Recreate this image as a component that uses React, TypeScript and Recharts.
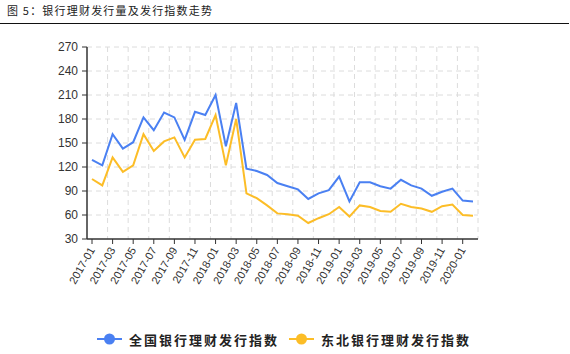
import React from 'react';
import { LineChart, Line, XAxis, YAxis, CartesianGrid, Legend } from 'recharts';

const months = [
  '2017-01', '2017-02', '2017-03', '2017-04', '2017-05', '2017-06', '2017-07', '2017-08', '2017-09', '2017-10',
  '2017-11', '2017-12', '2018-01', '2018-02', '2018-03', '2018-04', '2018-05', '2018-06', '2018-07', '2018-08',
  '2018-09', '2018-10', '2018-11', '2018-12', '2019-01', '2019-02', '2019-03', '2019-04', '2019-05', '2019-06',
  '2019-07', '2019-08', '2019-09', '2019-10', '2019-11', '2019-12', '2020-01', '2020-02',
];

const national = [
  129, 122, 161, 143, 151, 182, 166, 188, 182, 154, 189, 185, 210, 146, 200, 118, 115, 110, 100, 96,
  92, 80, 87, 91, 108, 77, 101, 101, 96, 93, 104, 97, 93, 84, 89, 93, 78, 77,
];

const northeast = [
  105, 97, 132, 114, 122, 161, 140, 152, 157, 132, 154, 155, 185, 122, 180, 87, 81, 72, 62, 61,
  59, 50, 56, 61, 70, 58, 72, 70, 65, 64, 74, 70, 68, 64, 71, 73, 60, 59,
];

const yTicks = [30, 60, 90, 120, 150, 180, 210, 240, 270];

const seriesNames = ['全国银行理财发行指数', '东北银行理财发行指数'];
const BLUE = '#4a80f2';
const YELLOW = '#fcbd27';

const data = months.map((m, i) => ({ month: m, national: national[i], northeast: northeast[i] }));

// rotated month labels, text end sits under the tick
const MonthTick = (props: any) => {
  const { x, y, payload } = props;
  return (
    <text
      x={x}
      y={y}
      transform={`rotate(-60, ${x}, ${y})`}
      textAnchor="end"
      dy="0.35em"
      fontSize={11}
      fill="#333"
      fontFamily="Liberation Sans, Arial, sans-serif"
    >
      {payload.value}
    </text>
  );
};

const LegendContent = () => {
  const colors = [BLUE, YELLOW];
  return (
    <div style={{ display: 'flex', alignItems: 'center', height: 30, paddingLeft: 97 }}>
      {seriesNames.map((name, i) => (
        <div key={name} style={{ display: 'flex', alignItems: 'center', marginRight: i === 0 ? 10 : 0 }}>
          <svg width={25} height={12} style={{ marginRight: 7 }}>
            <line x1={0} y1={6} x2={25} y2={6} stroke={colors[i]} strokeWidth={2} />
            <circle cx={12.5} cy={6} r={5.5} fill={colors[i]} />
          </svg>
          <span
            style={{
              fontFamily: 'Noto Sans CJK SC, sans-serif',
              fontSize: 13,
              fontWeight: 700,
              letterSpacing: '2px',
              color: '#222',
            }}
          >
            {name}
          </span>
        </div>
      ))}
    </div>
  );
};

export default function App() {
  const bandCount = months.length;
  return (
    <div style={{ position: 'absolute', left: 0, top: 0, width: 570, height: 354, background: '#fff' }}>
      <div
        style={{
          position: 'absolute',
          left: 0,
          top: 0,
          width: 569,
          height: 24,
          borderBottom: '1.5px solid #111',
          fontFamily: 'Noto Sans CJK SC, sans-serif',
          fontSize: 11,
          letterSpacing: '1.2px',
          lineHeight: '20px',
          paddingLeft: 7,
          boxSizing: 'border-box',
          color: '#222',
        }}
      >
        图 5：银行理财发行量及发行指数走势
      </div>
      <LineChart
        width={570}
        height={354}
        data={data}
        margin={{ top: 47, right: 92, left: 27, bottom: 0 }}
      >
        <CartesianGrid
          stroke="#dcdcdc"
          strokeDasharray="5 4"
          horizontalValues={yTicks.slice(1)}
          verticalCoordinatesGenerator={({ offset }: any) => {
            const band = offset.width / bandCount;
            const pts: number[] = [];
            for (let k = 2; k <= bandCount; k += 2) pts.push(offset.left + k * band);
            return pts;
          }}
        />
        <XAxis
          dataKey="month"
          interval={1}
          padding={{ left: 5, right: 5 }}
          height={85}
          tick={<MonthTick />}
          tickSize={5}
          tickMargin={4}
          stroke="#333"
          axisLine={{ stroke: '#333', strokeWidth: 1.5 }}
        />
        <YAxis
          domain={[30, 270]}
          ticks={yTicks}
          interval={0}
          width={60}
          tickSize={5}
          tickMargin={4}
          stroke="#333"
          axisLine={{ stroke: '#333', strokeWidth: 1.5 }}
          tick={{ fontSize: 12, fill: '#333', fontFamily: 'Liberation Sans, Arial, sans-serif' }}
        />
        <Legend
          verticalAlign="bottom"
          height={30}
          wrapperStyle={{ left: 0, width: 570 }}
          content={<LegendContent />}
        />
        <Line
          type="linear"
          dataKey="national"
          name={seriesNames[0]}
          stroke={BLUE}
          strokeWidth={2}
          dot={false}
          isAnimationActive={false}
        />
        <Line
          type="linear"
          dataKey="northeast"
          name={seriesNames[1]}
          stroke={YELLOW}
          strokeWidth={2}
          dot={false}
          isAnimationActive={false}
        />
      </LineChart>
    </div>
  );
}
